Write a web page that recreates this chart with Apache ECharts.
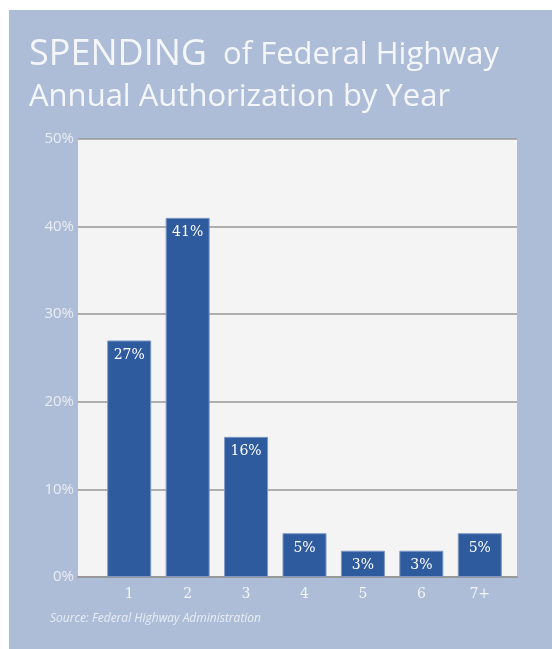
<!DOCTYPE html>
<html>
<head>
<meta charset="utf-8">
<script src="https://cdn.jsdelivr.net/npm/echarts@6/dist/echarts.min.js"></script>
<style>
  html, body { margin: 0; padding: 0; background: #fff; }
  #chart { width: 552px; height: 649px; }
</style>
</head>
<body>
<div id="chart"></div>
<script>
// data
const years = ['1', '2', '3', '4', '5', '6', '7+']
const shares = [27, 41, 16, 5, 3, 3, 5]
const yTicks = [0, 10, 20, 30, 40, 50]

const panelColor = '#aebdd7'
const barColor = '#2e5a9e'
const gridGray = '#999999'

const myChart = echarts.init(document.getElementById('chart'))

const option = {
  backgroundColor: '#ffffff',
  animation: false,
  graphic: [
    {
      type: 'rect',
      z: -10,
      shape: { x: 9, y: 10, width: 543, height: 639 },
      style: { fill: panelColor }
    },
    {
      type: 'text',
      left: 50,
      top: 613,
      style: {
        text: 'Source: Federal Highway Administration',
        fill: '#e8edf5',
        font: 'italic 12px "Open Sans"'
      }
    }
  ],
  title: {
    left: 24,
    top: 29,
    text: '{a|SPENDING}{b|  of Federal Highway}\n{b|Annual Authorization by Year}',
    textStyle: {
      fontWeight: 'normal',
      rich: {
        a: { fontFamily: 'Open Sans', fontWeight: 'normal', fontSize: 36, color: '#f4f6fa', lineHeight: 42 },
        b: { fontFamily: 'Open Sans', fontWeight: 'normal', fontSize: 31, color: '#f4f6fa', lineHeight: 42 }
      }
    }
  },
  grid: [
    // plot backdrop with gridlines
    { left: 78, right: 35, top: 139, bottom: 72, show: true, backgroundColor: '#f4f4f4', borderWidth: 0 },
    // bars sit in a narrower band
    { left: 100, right: 43, top: 139, bottom: 72 }
  ],
  xAxis: [
    {
      gridIndex: 0,
      type: 'category',
      data: [''],
      axisLine: { lineStyle: { color: gridGray, width: 2 } },
      axisTick: { show: false },
      axisLabel: { show: false }
    },
    {
      gridIndex: 1,
      type: 'category',
      data: years,
      axisLine: { show: false },
      axisTick: { show: false },
      axisLabel: {
        color: '#f2f4f8',
        fontFamily: 'DejaVu Serif',
        fontSize: 14,
        margin: 10
      }
    }
  ],
  yAxis: [
    {
      gridIndex: 0,
      type: 'value',
      min: yTicks[0],
      max: yTicks[yTicks.length - 1],
      interval: 10,
      axisLine: { show: false },
      axisTick: { show: false },
      axisLabel: {
        formatter: '{value}%',
        color: '#e9edf5',
        fontFamily: 'Open Sans',
        fontSize: 15,
        margin: 4
      },
      splitLine: { lineStyle: { color: gridGray, width: 1.5 } }
    },
    {
      gridIndex: 1,
      type: 'value',
      min: yTicks[0],
      max: yTicks[yTicks.length - 1],
      show: false
    }
  ],
  series: [{
    type: 'bar',
    xAxisIndex: 1,
    yAxisIndex: 1,
    data: shares,
    barWidth: 44,
    itemStyle: { color: barColor, borderColor: '#7d98c6', borderWidth: 1 },
    label: {
      show: true,
      position: 'insideTop',
      distance: 8,
      formatter: '{c}%',
      color: '#ffffff',
      fontFamily: 'DejaVu Serif',
      fontSize: 14
    }
  }]
}

myChart.setOption(option)
</script>
</body>
</html>
